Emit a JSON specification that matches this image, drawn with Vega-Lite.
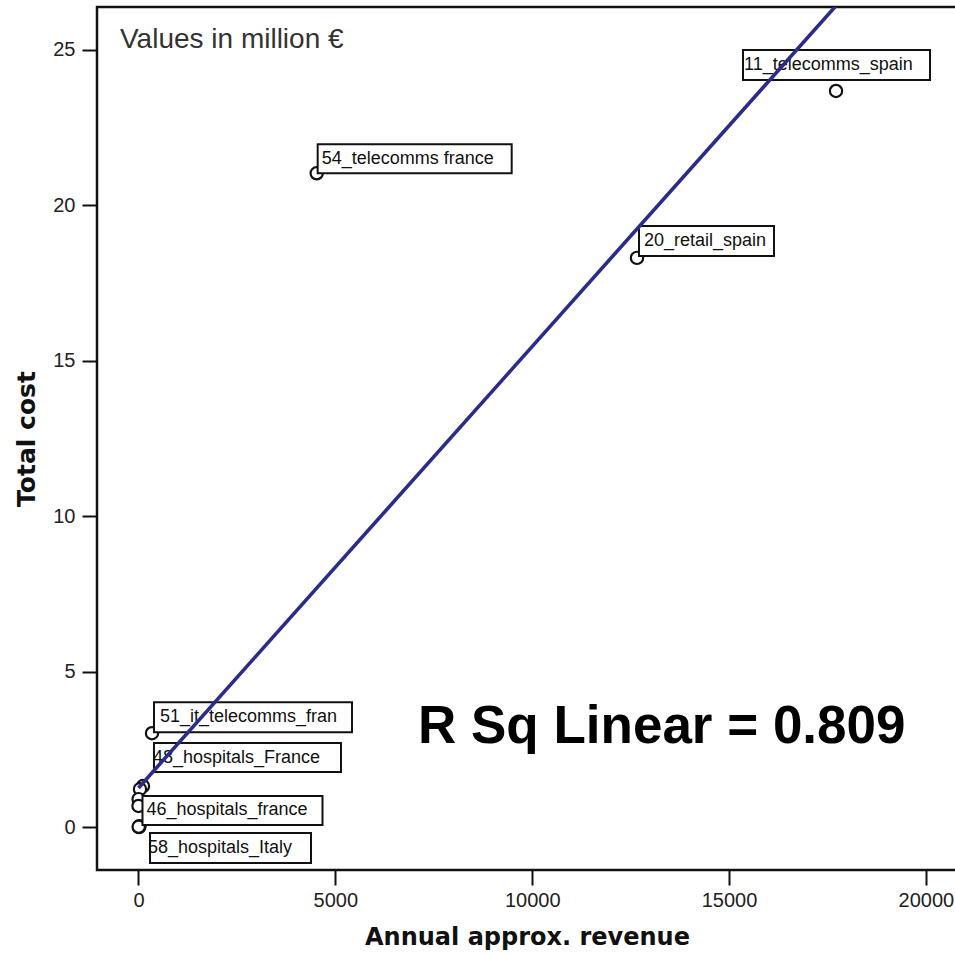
{
  "$schema": "https://vega.github.io/schema/vega-lite/v6.json",
  "autosize": "none",
  "width": 860,
  "height": 863,
  "padding": {"left": 97, "top": 7, "right": 0, "bottom": 85},
  "background": "white",
  "config": {
    "view": {"stroke": "#111", "strokeWidth": 2.5},
    "axis": {
      "grid": false, "domain": false,
      "tickColor": "#111", "tickWidth": 2, "tickSize": 15,
      "labelFont": "Liberation Sans", "labelFontSize": 20, "labelColor": "#222",
      "titleFont": "DejaVu Sans", "titleFontWeight": "bold", "titleColor": "#111"
    },
    "axisX": {"labelPadding": 5, "titleFontSize": 24, "titlePadding": 15},
    "axisY": {"labelPadding": 7, "titleFontSize": 25, "titlePadding": 13}
  },
  "datasets": {
    "pts": [
      {"revenue": 17717, "cost": 23.68, "label": "11_telecomms_spain"},
      {"revenue": 12662, "cost": 18.31, "label": "20_retail_spain"},
      {"revenue": 4526, "cost": 21.03, "label": "54_telecomms france"},
      {"revenue": 343, "cost": 3.02, "label": "51_it_telecomms_fran"},
      {"revenue": 114, "cost": 1.32, "label": "48_hospitals_France"},
      {"revenue": 38, "cost": 1.22, "label": ""},
      {"revenue": 2, "cost": 0.9, "label": ""},
      {"revenue": 0, "cost": 0.68, "label": "46_hospitals_france"},
      {"revenue": 13, "cost": 0.0, "label": "58_hospitals_Italy"},
      {"revenue": 25, "cost": 0.03, "label": ""},
      {"revenue": 5, "cost": 0.01, "label": ""}
    ],
    "fit": [
      {"revenue": 0, "cost": 1.26},
      {"revenue": 17717, "cost": 26.42}
    ],
    "notes": [
      {"note": "R Sq Linear = 0.809"}
    ],
    "notes2": [
      {"note": "Values in million €"}
    ]
  },
  "layer": [
    {
      "data": {"name": "pts"},
      "encoding": {
        "x": {
          "field": "revenue", "type": "quantitative",
          "scale": {"domain": [-1054, 20790], "nice": false, "zero": false},
          "axis": {"values": [0, 5000, 10000, 15000, 20000], "format": "d"},
          "title": "Annual approx. revenue"
        },
        "y": {
          "field": "cost", "type": "quantitative",
          "scale": {"domain": [-1.38, 26.38], "nice": false, "zero": false},
          "axis": {"values": [0, 5, 10, 15, 20, 25]},
          "title": "Total cost"
        }
      },
      "layer": [
        {
          "mark": {"type": "point", "shape": "circle", "size": 150, "filled": false, "fill": "white", "stroke": "#111", "strokeWidth": 2.2, "opacity": 1}
        },
        {
          "transform": [{"filter": "datum.label == '11_telecomms_spain'"}],
          "layer": [
            {"mark": {"type": "rect", "fill": "white", "stroke": "#111", "strokeWidth": 2, "xOffset": -93, "x2Offset": 94, "yOffset": -41, "y2Offset": -11},
             "encoding": {"x2": {"field": "revenue"}, "y2": {"field": "cost"}}},
            {"mark": {"type": "text", "align": "left", "baseline": "middle", "font": "Liberation Sans", "fontSize": 18, "color": "#111", "dx": -92, "dy": -26},
             "encoding": {"text": {"field": "label"}}}
          ]
        },
        {
          "transform": [{"filter": "datum.label == '20_retail_spain'"}],
          "layer": [
            {"mark": {"type": "rect", "fill": "white", "stroke": "#111", "strokeWidth": 2, "xOffset": 2, "x2Offset": 137, "yOffset": -32, "y2Offset": -2},
             "encoding": {"x2": {"field": "revenue"}, "y2": {"field": "cost"}}},
            {"mark": {"type": "text", "align": "left", "baseline": "middle", "font": "Liberation Sans", "fontSize": 18, "color": "#111", "dx": 7, "dy": -17},
             "encoding": {"text": {"field": "label"}}}
          ]
        },
        {
          "transform": [{"filter": "datum.label == '54_telecomms france'"}],
          "layer": [
            {"mark": {"type": "rect", "fill": "white", "stroke": "#111", "strokeWidth": 2, "xOffset": 1, "x2Offset": 195, "yOffset": -29, "y2Offset": 0},
             "encoding": {"x2": {"field": "revenue"}, "y2": {"field": "cost"}}},
            {"mark": {"type": "text", "align": "left", "baseline": "middle", "font": "Liberation Sans", "fontSize": 18, "color": "#111", "dx": 5, "dy": -14.5},
             "encoding": {"text": {"field": "label"}}}
          ]
        },
        {
          "transform": [{"filter": "datum.label == '51_it_telecomms_fran'"}],
          "layer": [
            {"mark": {"type": "rect", "fill": "white", "stroke": "#111", "strokeWidth": 2, "xOffset": 2, "x2Offset": 200, "yOffset": -31, "y2Offset": -1},
             "encoding": {"x2": {"field": "revenue"}, "y2": {"field": "cost"}}},
            {"mark": {"type": "text", "align": "left", "baseline": "middle", "font": "Liberation Sans", "fontSize": 18, "color": "#111", "dx": 8, "dy": -16},
             "encoding": {"text": {"field": "label"}}}
          ]
        },
        {
          "transform": [{"filter": "datum.label == '48_hospitals_France'"}],
          "layer": [
            {"mark": {"type": "rect", "fill": "white", "stroke": "#111", "strokeWidth": 2, "xOffset": 11, "x2Offset": 198, "yOffset": -43, "y2Offset": -14},
             "encoding": {"x2": {"field": "revenue"}, "y2": {"field": "cost"}}},
            {"mark": {"type": "text", "align": "left", "baseline": "middle", "font": "Liberation Sans", "fontSize": 18, "color": "#111", "dx": 10, "dy": -28.5},
             "encoding": {"text": {"field": "label"}}}
          ]
        },
        {
          "transform": [{"filter": "datum.label == '46_hospitals_france'"}],
          "layer": [
            {"mark": {"type": "rect", "fill": "white", "stroke": "#111", "strokeWidth": 2, "xOffset": 4, "x2Offset": 184, "yOffset": -10, "y2Offset": 19},
             "encoding": {"x2": {"field": "revenue"}, "y2": {"field": "cost"}}},
            {"mark": {"type": "text", "align": "left", "baseline": "middle", "font": "Liberation Sans", "fontSize": 18, "color": "#111", "dx": 8, "dy": 4.5},
             "encoding": {"text": {"field": "label"}}}
          ]
        },
        {
          "transform": [{"filter": "datum.label == '58_hospitals_Italy'"}],
          "layer": [
            {"mark": {"type": "rect", "fill": "white", "stroke": "#111", "strokeWidth": 2, "xOffset": 11, "x2Offset": 172, "yOffset": 6, "y2Offset": 36},
             "encoding": {"x2": {"field": "revenue"}, "y2": {"field": "cost"}}},
            {"mark": {"type": "text", "align": "left", "baseline": "middle", "font": "Liberation Sans", "fontSize": 18, "color": "#111", "dx": 9, "dy": 21},
             "encoding": {"text": {"field": "label"}}}
          ]
        },
        {
          "data": {"name": "fit"},
          "mark": {"type": "line", "color": "#2B2B8A", "strokeWidth": 3.6, "clip": true}
        }
      ]
    },
    {
      "data": {"name": "notes"},
      "mark": {"type": "text", "align": "left", "baseline": "alphabetic", "font": "Liberation Sans", "fontWeight": "bold", "fontSize": 53, "fill": "#000"},
      "encoding": {
        "x": {"datum": 7099, "type": "quantitative", "title": "Annual approx. revenue"},
        "y": {"datum": 2.70, "type": "quantitative", "title": "Total cost"},
        "text": {"field": "note", "type": "nominal"}
      }
    },
    {
      "data": {"name": "notes2"},
      "mark": {"type": "text", "align": "left", "baseline": "alphabetic", "font": "Liberation Sans", "fontSize": 28, "fill": "#333"},
      "encoding": {
        "x": {"datum": -470, "type": "quantitative", "title": "Annual approx. revenue"},
        "y": {"datum": 25.06, "type": "quantitative", "title": "Total cost"},
        "text": {"field": "note", "type": "nominal"}
      }
    }
  ]
}
